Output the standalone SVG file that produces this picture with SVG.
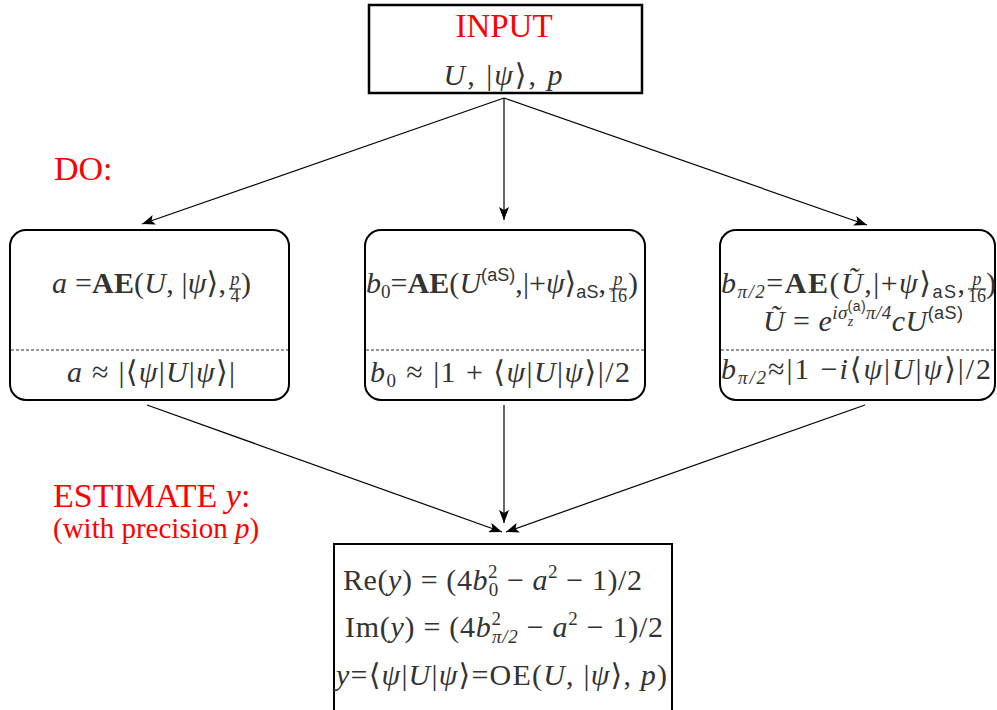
<svg xmlns="http://www.w3.org/2000/svg" width="997" height="710" viewBox="0 0 997 710">
<style>
.m { font-family: "Liberation Serif", "DejaVu Serif", serif; fill: #333; font-size: 30px; }
.fn { font-family: "Liberation Serif", "DejaVu Serif", serif; fill: #333; font-size: 18px; text-anchor: middle; }
.i { font-style: italic; }
.b { font-weight: bold; }
.s { font-family: "Liberation Sans", "DejaVu Sans", sans-serif; font-style: normal; }
.red { fill: #f00; font-family: "Liberation Serif", "DejaVu Serif", serif; }
.box { fill: #fff; stroke: #000; stroke-width: 2; }
.dash { stroke: #333; stroke-width: 1; stroke-dasharray: 3 2; }
.bar { stroke: #333; stroke-width: 1.2; }
.arr { stroke: #000; stroke-width: 1.2; fill: none; marker-end: url(#ah); }
</style>
<defs>
<marker id="ah" markerUnits="userSpaceOnUse" markerWidth="14" markerHeight="10" refX="13" refY="5" orient="auto">
<path d="M0,0 L13,5 L0,10 L3,5 z" fill="#000"/>
</marker>
</defs>
<rect width="997" height="710" fill="#fff"/>

<g id="connectors">
<line class="arr" x1="504" y1="98" x2="142" y2="224"/>
<line class="arr" x1="504" y1="98" x2="504" y2="220"/>
<line class="arr" x1="504" y1="98" x2="867" y2="225"/>
<line class="arr" x1="147" y1="405" x2="502" y2="532"/>
<line class="arr" x1="504" y1="405" x2="504" y2="523"/>
<line class="arr" x1="865" y1="405" x2="506" y2="532"/>
</g>

<g id="input">
<rect x="369" y="5" width="273" height="88" fill="#fff" stroke="#000" stroke-width="2.5"/>
<text class="red" x="504" y="37" font-size="33" text-anchor="middle">INPUT</text>
<text class="m" x="503" y="85" font-size="32" text-anchor="middle" textLength="119" lengthAdjust="spacing"><tspan class="i">U</tspan>, |<tspan class="i">ψ</tspan>⟩, <tspan class="i">p</tspan></text>
</g>

<g id="label-do">
<text class="red" x="54" y="180" font-size="34">DO:</text>
</g>

<g id="label-estimate">
<text class="red" x="53" y="507" font-size="34">ESTIMATE <tspan class="i">y</tspan>:</text>
<text class="red" x="53" y="538" font-size="29">(with precision <tspan class="i">p</tspan>)</text>
</g>

<g id="box-a">
<rect class="box" x="10" y="230" width="279" height="170" rx="16"/>
<line class="dash" x1="11" y1="350" x2="288" y2="350"/>
<text class="m" x="52" y="293" textLength="174" lengthAdjust="spacing"><tspan class="i">a</tspan> =<tspan class="b">AE</tspan>(<tspan class="i">U</tspan>, |<tspan class="i">ψ</tspan>⟩,</text>
<text class="fn i" x="235" y="285">p</text>
<line class="bar" x1="229" y1="289" x2="241" y2="289"/>
<text class="fn" x="235" y="302">4</text>
<text class="m" x="241" y="293">)</text>
<text class="m" x="151" y="382" text-anchor="middle" textLength="168" lengthAdjust="spacing"><tspan class="i">a</tspan> ≈ |⟨<tspan class="i">ψ</tspan>|<tspan class="i">U</tspan>|<tspan class="i">ψ</tspan>⟩|</text>
</g>

<g id="box-b0">
<rect class="box" x="365" y="230" width="280" height="170" rx="16"/>
<line class="dash" x1="366" y1="350" x2="644" y2="350"/>
<text class="m" x="366" y="293" textLength="240" lengthAdjust="spacing"><tspan class="i">b</tspan><tspan font-size="19" dy="5">0</tspan><tspan dy="-5">=</tspan><tspan class="b">AE</tspan>(<tspan class="i">U</tspan><tspan class="s" font-size="18" dy="-12">(aS)</tspan><tspan dy="12">,|+</tspan><tspan class="i">ψ</tspan>⟩<tspan class="s" font-size="18" dy="5">aS</tspan><tspan dy="-5">,</tspan></text>
<text class="fn i" x="618" y="285">p</text>
<line class="bar" x1="609" y1="289" x2="627" y2="289"/>
<text class="fn" x="618" y="302">16</text>
<text class="m" x="628" y="293">)</text>
<text class="m" x="500" y="382" text-anchor="middle" textLength="260" lengthAdjust="spacing"><tspan class="i">b</tspan><tspan font-size="19" dy="5">0</tspan><tspan dy="-5"> ≈ |1 + ⟨</tspan><tspan class="i">ψ</tspan>|<tspan class="i">U</tspan>|<tspan class="i">ψ</tspan>⟩|/2</text>
</g>

<g id="box-bpi2">
<rect class="box" x="720" y="230" width="275" height="170" rx="16"/>
<line class="dash" x1="721" y1="350" x2="994" y2="350"/>
<text class="m" x="721" y="293" textLength="244" lengthAdjust="spacing"><tspan class="i">b</tspan><tspan font-size="19" dy="5" class="i">π/2</tspan><tspan dy="-5">=</tspan><tspan class="b">AE</tspan>(<tspan class="i">Ũ</tspan>,|+<tspan class="i">ψ</tspan>⟩<tspan class="s" font-size="18" dy="5">aS</tspan><tspan dy="-5">,</tspan></text>
<text class="fn i" x="977" y="285">p</text>
<line class="bar" x1="968" y1="289" x2="986" y2="289"/>
<text class="fn" x="977" y="302">16</text>
<text class="m" x="986" y="293">)</text>
<text class="m" x="863" y="331" text-anchor="middle" textLength="200" lengthAdjust="spacing"><tspan class="i">Ũ</tspan> = <tspan class="i">e</tspan><tspan class="i" font-size="19" dy="-12">iσ</tspan><tspan class="i" font-size="14" dy="7">z</tspan><tspan class="s" font-size="14" dx="-6" dy="-15">(a)</tspan><tspan class="i" font-size="19" dy="8">π/4</tspan><tspan class="i" dy="12">cU</tspan><tspan class="s" font-size="18" dy="-12">(aS)</tspan></text>
<text class="m" x="856" y="379" text-anchor="middle" textLength="270" lengthAdjust="spacing"><tspan class="i">b</tspan><tspan font-size="19" dy="5" class="i">π/2</tspan><tspan dy="-5">≈|1 −</tspan><tspan class="i">i</tspan>⟨<tspan class="i">ψ</tspan>|<tspan class="i">U</tspan>|<tspan class="i">ψ</tspan>⟩|/2</text>
</g>

<g id="estimate">
<rect x="334" y="544" width="338" height="175" fill="#fff" stroke="#000" stroke-width="2"/>
<text class="m" x="343" y="590" textLength="299" lengthAdjust="spacing">Re(<tspan class="i">y</tspan>) = (4<tspan class="i">b</tspan><tspan font-size="19" dy="-12">2</tspan><tspan font-size="19" dx="-9.5" dy="18">0</tspan><tspan dy="-6"> − </tspan><tspan class="i">a</tspan><tspan font-size="19" dy="-12">2</tspan><tspan dy="12"> − 1)/2</tspan></text>
<text class="m" x="345" y="637" textLength="318" lengthAdjust="spacing">Im(<tspan class="i">y</tspan>) = (4<tspan class="i">b</tspan><tspan font-size="19" dy="-12">2</tspan><tspan class="i" font-size="19" dx="-9.5" dy="18">π/2</tspan><tspan dy="-6"> − </tspan><tspan class="i">a</tspan><tspan font-size="19" dy="-12">2</tspan><tspan dy="12"> − 1)/2</tspan></text>
<text class="m" x="336" y="685" textLength="331" lengthAdjust="spacing"><tspan class="i">y</tspan>=⟨<tspan class="i">ψ</tspan>|<tspan class="i">U</tspan>|<tspan class="i">ψ</tspan>⟩=OE(<tspan class="i">U</tspan>, |<tspan class="i">ψ</tspan>⟩, <tspan class="i">p</tspan>)</text>
</g>
</svg>
